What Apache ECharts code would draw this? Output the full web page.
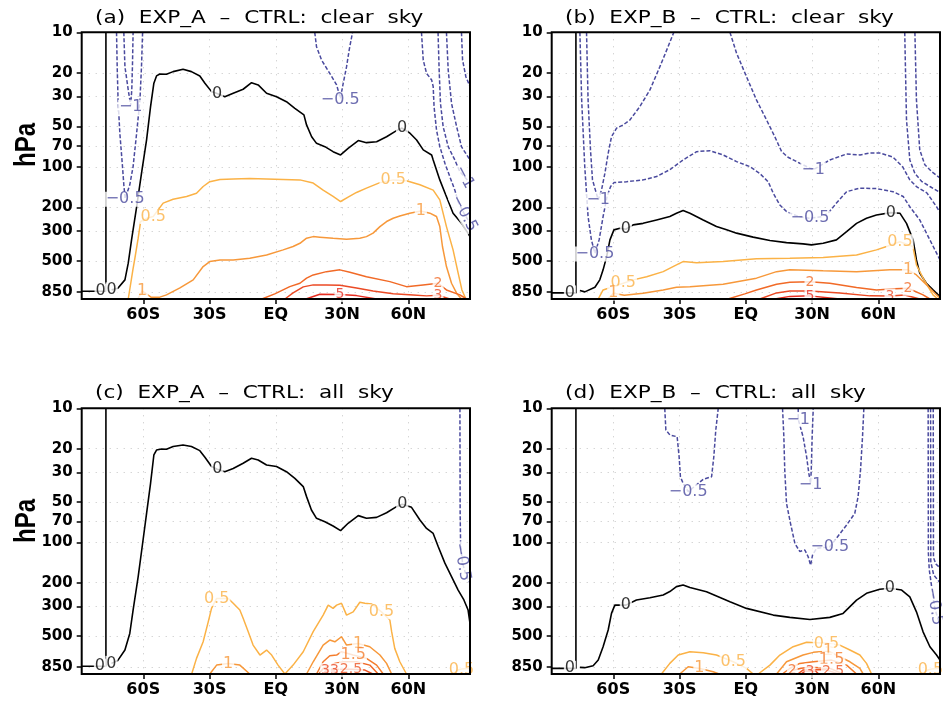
<!DOCTYPE html>
<html>
<head>
<meta charset="utf-8">
<script src="https://cdn.jsdelivr.net/npm/echarts@6/dist/echarts.min.js"></script>
<style>
html, body { margin: 0; padding: 0; background: #fff; }
#chart { width: 943px; height: 705px; }
</style>
</head>
<body>
<div id="chart"></div>
<script>
// ---- axes -------------------------------------------------------------
const latTicks = [-60, -30, 0, 30, 60];
const presTicks = [10, 20, 30, 50, 70, 100, 200, 300, 500, 850];
const latRange = [-87.86, 87.86];
const presRange = [10, 960];

const panelTitles = [
  '(a)  EXP_A  \u2013  CTRL:  clear  sky',
  '(b)  EXP_B  \u2013  CTRL:  clear  sky',
  '(c)  EXP_A  \u2013  CTRL:  all  sky',
  '(d)  EXP_B  \u2013  CTRL:  all  sky'
];

// ---- contour lines: [latitude, pressure hPa] --------------------------
// (a) EXP_A - CTRL, clear sky
const aZeroPolar = [[-87.86, 840], [-76.9, 840], [-76.9, 10]];
const aZero = [[-74.3, 821], [-71.5, 800], [-68.3, 692], [-66.8, 520], [-65.3, 349], [-63.0, 198], [-60.8, 112], [-58.5, 63], [-56.7, 35.7], [-55.2, 23.9], [-54.0, 21.1], [-52.5, 20.4], [-49.5, 20.5], [-46.5, 19.6], [-42.0, 18.8], [-38.2, 19.6], [-34.4, 21.1], [-32.1, 23.9], [-29.1, 27.6], [-26.6, 28.5], [-23.1, 30.1], [-19.3, 28.4], [-14.8, 26.5], [-11.0, 23.7], [-8.0, 24.6], [-4.2, 28.4], [0.3, 30.1], [4.8, 32.8], [8.6, 36.7], [12.7, 41.1], [13.9, 48.8], [16.2, 59.7], [18.4, 66.9], [22.2, 70.8], [25.9, 77.1], [29.3, 81.6], [32.7, 72.8], [37.3, 63.8], [41.0, 66.1], [45.6, 65.0], [50.1, 59.7], [54.6, 53.8], [57.1, 51.5], [60.6, 56], [63.7, 63.1], [66.7, 74.8], [70.5, 81.6], [71.2, 88.9], [74.2, 125], [76.9, 162], [80.2, 221], [84.0, 262], [87.0, 312], [87.86, 330]];
const aNegSH05 = [[-72.1, 10], [-71.8, 18], [-71.4, 31.8], [-70.6, 56.2], [-69.4, 99.5], [-68.8, 136], [-68.2, 172], [-66.1, 136], [-64.6, 99.5], [-63.0, 56.2], [-61.5, 31.8], [-60.8, 18], [-60.3, 10]];
const aNegSH1 = [[-68.8, 10], [-68.3, 18], [-66.8, 26.8], [-65.7, 35], [-65.2, 26.8], [-64.9, 18], [-64.6, 10]];
const aNegTrop05 = [[17.6, 10], [18.4, 12.8], [20.7, 16.1], [24.4, 20.2], [27.5, 24.6], [29.2, 31], [30.5, 23.9], [32.0, 18.0], [33.2, 13.5], [34.7, 10]];
const aNegNP05 = [[65.9, 10], [66.7, 16.1], [68.2, 20.2], [70.5, 22.6], [71.2, 25.3], [71.6, 35.7], [72.7, 53.2], [74.2, 70.8], [76.5, 94], [78.7, 118], [81.0, 149], [82.5, 182], [85.1, 221], [87.86, 262]];
const aNegNP1 = [[73.4, 10], [73.9, 19.1], [74.5, 33.7], [75.7, 50.2], [78.0, 70.8], [81.0, 88.9], [83.3, 109], [85.1, 117], [87.86, 132]];
const aNegNP15 = [[77.2, 10], [78.0, 19.1], [79.5, 33.7], [81.8, 50.2], [84.0, 70.8], [87.86, 88.9]];
const aNegNP2 = [[84.0, 10], [84.5, 16.1], [86.0, 21.4], [87.86, 25.3]];
const aPos05 = [[-66.8, 960], [-64.7, 583], [-63.8, 478], [-62.3, 339], [-61.2, 255], [-58.0, 240], [-55.5, 234], [-51.0, 186], [-46.5, 174], [-40.4, 166], [-35.9, 157], [-32.9, 140], [-29.9, 129], [-25.3, 124], [-19.3, 123], [-11.8, 122], [-4.2, 123], [3.3, 124], [10.9, 125], [16.9, 132], [21.4, 149], [25.9, 166], [29.3, 181], [32.7, 168], [36.5, 155], [41.0, 144], [47.1, 131], [53.1, 125], [59.1, 127], [65.2, 136], [71.2, 149], [74.2, 176], [77.2, 278], [80.2, 414], [82.5, 617], [84.2, 822], [86.0, 960]];
const aPos1 = [[-62.5, 960], [-60.5, 835], [-56.5, 930], [-52.5, 930], [-49.5, 895], [-43.4, 794], [-37.4, 692], [-32.9, 551], [-29.9, 506], [-25.3, 492], [-19.3, 492], [-11.8, 478], [-4.2, 452], [3.3, 414], [7.8, 391], [10.9, 370], [13.9, 339], [16.9, 330], [19.9, 333], [25.9, 339], [32.0, 345], [38.0, 339], [41.0, 330], [44.0, 311], [47.1, 278], [50.1, 255], [53.1, 241], [56.1, 232], [60.6, 221], [65.6, 213], [69.7, 221], [72.7, 234], [74.2, 278], [75.4, 391], [77.2, 551], [79.5, 733], [81.8, 869], [84.0, 960]];
const aPos2 = [[-6.3, 960], [-0.5, 879], [6.3, 777], [10.9, 733], [13.9, 672], [16.9, 636], [22.9, 601], [29.0, 583], [33.5, 607], [41.0, 655], [51.6, 713], [59.1, 777], [66.6, 754], [73.4, 733], [77.2, 822], [83.3, 895], [86.3, 960]];
const aPos3 = [[4.1, 960], [7.8, 865], [12.4, 780], [16.9, 754], [22.9, 754], [29.0, 760], [36.5, 794], [44.0, 836], [53.1, 879], [62.1, 895], [68.2, 910], [73.4, 900], [78.7, 960]];
const aPos5 = [[13.6, 960], [19.9, 885], [29.0, 888], [36.5, 906], [45.6, 960]];

// (b) EXP_B - CTRL, clear sky
const bZeroPolar = [[-87.86, 865], [-76.9, 865], [-76.9, 10]];
const bZero = [[-75.1, 831], [-72.9, 850], [-68.3, 785], [-66.1, 692], [-64.6, 583], [-63.0, 465], [-61.5, 349], [-59.7, 294], [-57.0, 286], [-54.3, 291], [-51.0, 270], [-46.5, 263], [-40.4, 248], [-34.4, 234], [-31.4, 221], [-28.4, 211], [-25.3, 221], [-19.3, 248], [-13.3, 278], [-8.7, 294], [-4.2, 311], [3.3, 333], [10.9, 353], [18.4, 366], [25.9, 374], [29.7, 380], [35.0, 370], [41.0, 349], [45.6, 303], [50.1, 263], [54.6, 241], [59.1, 228], [65.6, 219], [69.7, 221], [72.7, 263], [75.7, 349], [77.2, 492], [78.7, 617], [81.7, 733], [84.7, 822], [87.86, 921]];
const bNeg05 = [[-75.1, 10], [-74.3, 31.8], [-72.9, 99.5], [-71.4, 234], [-69.9, 349], [-68.3, 439], [-66.4, 349], [-64.6, 234], [-62.8, 166], [-61.2, 140], [-59.7, 131], [-54.0, 129], [-46.5, 125], [-40.4, 118], [-34.4, 105], [-28.4, 88.9], [-22.3, 77.1], [-16.3, 75.8], [-10.3, 81.6], [-4.2, 91.4], [1.8, 99.5], [6.3, 112], [10.1, 129], [12.4, 157], [15.4, 192], [18.4, 215], [24.0, 235], [29.0, 241], [34.0, 235], [37.2, 221], [41.0, 186], [45.6, 153], [51.6, 144], [59.1, 145], [66.6, 153], [71.2, 166], [74.2, 198], [78.7, 248], [84.8, 391], [87.86, 492]];
const bNegSH1 = [[-72.1, 10], [-71.4, 31.8], [-70.3, 74.9], [-69.4, 125], [-66.8, 176], [-65.3, 148], [-63.8, 112], [-62.3, 79.3], [-60.8, 59.7], [-58.5, 51.6], [-55.5, 48.8], [-52.5, 44.9], [-48.0, 35.7], [-43.4, 26.8], [-38.9, 18.0], [-35.2, 12.8], [-32.6, 10]];
const bNegNH1 = [[-7.2, 10], [-4.2, 14.3], [0.3, 21.4], [4.8, 31.8], [9.4, 44.9], [13.1, 59.7], [16.2, 77.1], [19.1, 84.9], [24.4, 94], [30.5, 105], [38.0, 88.9], [45.6, 80.2], [51.6, 81.6], [56.1, 78.9], [60.6, 78.9], [66.5, 84.4], [71.0, 100], [74.2, 125], [77.4, 141], [81.9, 156], [86.4, 199], [87.86, 219]];
const bNegNP15 = [[71.9, 10], [72.7, 44.8], [74.2, 88.9], [76.5, 112], [79.5, 128], [83.3, 140], [87.86, 155]];
const bNegNP2 = [[76.5, 10], [77.2, 31.8], [78.7, 74.9], [81.0, 96.5], [84.2, 109], [87.86, 121]];
const bPos05 = [[-66.8, 960], [-64.6, 822], [-55.5, 733], [-51.0, 692], [-44.9, 655], [-37.4, 601], [-31.4, 536], [-28.4, 506], [-22.3, 517], [-10.3, 506], [4.8, 483], [19.9, 478], [35.0, 472], [50.1, 452], [59.1, 414], [63.7, 391], [69.7, 360], [75.6, 391], [77.2, 536], [80.2, 672], [84.7, 895], [86.9, 960]];
const bPos1 = [[-62.4, 960], [-60.0, 869], [-55.0, 900], [-46.5, 869], [-37.4, 822], [-31.4, 785], [-25.3, 777], [-10.3, 745], [4.8, 672], [13.9, 601], [19.9, 583], [35.0, 593], [50.1, 601], [65.2, 583], [73.4, 583], [77.2, 636], [81.8, 754], [86.3, 895], [87.86, 946]];
const bPos2 = [[-8.1, 960], [-0.5, 879], [4.8, 822], [13.9, 745], [19.9, 720], [29.0, 716], [38.0, 733], [50.1, 787], [59.1, 822], [67.4, 807], [73.4, 798], [80.2, 895], [83.3, 960]];
const bPos3 = [[6.3, 960], [13.9, 865], [19.9, 836], [29.0, 836], [42.5, 865], [56.1, 910], [65.2, 912], [71.9, 895], [78.7, 960]];
const bPos5 = [[13.1, 960], [19.9, 918], [29.0, 910], [38.0, 942], [42.5, 960]];

// (c) EXP_A - CTRL, all sky
const cZeroPolar = [[-87.86, 840], [-76.9, 840], [-76.9, 10]];
const cZero = [[-74.4, 800], [-71.5, 760], [-68.3, 636], [-66.1, 478], [-64.6, 320], [-62.3, 180], [-60.3, 102], [-58.5, 60.8], [-56.7, 36.3], [-55.2, 22.3], [-54.0, 20.5], [-51.7, 20.1], [-49.5, 20.2], [-46.5, 19.3], [-42.0, 18.8], [-38.2, 19.3], [-34.4, 20.7], [-32.1, 23.2], [-29.1, 27.2], [-26.5, 28.5], [-23.1, 29.7], [-19.3, 28.1], [-14.8, 25.7], [-11.0, 23.6], [-8.0, 24.3], [-4.2, 26.5], [0.3, 27.2], [4.8, 29.7], [8.6, 33.3], [12.4, 38.4], [13.9, 45.6], [16.1, 57.4], [18.4, 66.2], [22.2, 70.2], [25.9, 75.5], [29.3, 81.8], [32.7, 72.1], [37.3, 63.2], [41.0, 66.2], [45.6, 65.1], [50.1, 60.1], [54.6, 54.2], [57.2, 52], [61.4, 54.8], [65.2, 68.1], [68.2, 78.7], [71.2, 85.8], [73.5, 108], [76.5, 143], [79.5, 180], [82.5, 227], [85.1, 269], [87.0, 320], [87.86, 402]];
const cNegNP05 = [[83.3, 10], [83.4, 60], [83.6, 102], [84.0, 120], [84.5, 143], [86.0, 175], [87.86, 202]];
const cPos05S = [[-38.1, 960], [-35.9, 734], [-32.9, 552], [-30.6, 392], [-29.1, 311], [-26.8, 262], [-21.6, 262], [-19.3, 285], [-16.3, 320], [-14.8, 369], [-12.5, 464], [-10.3, 584], [-7.2, 693], [-4.2, 636], [-1.9, 693], [1.0, 824], [4.1, 960]];
const cPos1S = [[-29.9, 960], [-26.8, 824], [-21.6, 800], [-16.3, 824], [-11.8, 960]];
const cPos05N = [[4.1, 960], [7.8, 824], [12.4, 655], [16.9, 464], [21.4, 349], [23.7, 294], [25.9, 311], [27.5, 294], [29.7, 285], [32.0, 349], [35.0, 330], [38.0, 280], [40.3, 285], [43.4, 289], [47.8, 330], [51.6, 380], [52.4, 464], [53.8, 618], [56.1, 778], [59.1, 960]];
const cPos1N = [[13.9, 960], [16.9, 778], [21.4, 584], [24.4, 536], [26.7, 552], [29.7, 506], [32.0, 584], [37.2, 568], [42.5, 601], [47.1, 693], [50.1, 800], [52.4, 960]];
const cPos15N = [[18.4, 960], [21.4, 778], [24.4, 702], [27.5, 693], [29.7, 655], [35.0, 693], [41.0, 734], [45.6, 824], [48.6, 960]];
const cPos2N = [[19.5, 960], [21.5, 870], [26.7, 800], [30.5, 778], [36.5, 778], [42.5, 824], [46.3, 960]];
const cPos25N = [[21.0, 960], [24.0, 885], [34.4, 883], [40.3, 898], [43.9, 960]];
const cPos3N = [[21.5, 960], [22.5, 910], [26.5, 910], [28.5, 960]];
const cPos05NP = [[80.5, 960], [82.0, 900], [84.0, 880], [87.86, 870]];

// (d) EXP_B - CTRL, all sky
const dZeroPolar = [[-87.86, 871], [-76.9, 871], [-76.9, 10]];
const dZero = [[-75.1, 857], [-72.9, 861], [-69.1, 832], [-66.8, 755], [-64.6, 601], [-62.3, 451], [-60.8, 339], [-59.3, 294], [-54.3, 294], [-49.5, 269], [-43.4, 259], [-37.4, 247], [-34.4, 233], [-31.4, 214], [-28.4, 208], [-25.3, 217], [-17.8, 234], [-7.2, 278], [0.3, 311], [12.4, 349], [19.9, 363], [29.0, 376], [38.0, 363], [44.0, 339], [50.1, 270], [54.6, 240], [60.6, 224], [65.2, 220], [70.5, 227], [74.2, 255], [77.2, 330], [80.2, 465], [83.3, 601], [86.3, 693], [87.86, 755]];
const dNegS05 = [[-36.7, 10], [-36.2, 14.5], [-34.4, 15.8], [-31.1, 16.3], [-30.2, 23.0], [-29.6, 32.4], [-28.4, 36.3], [-26.1, 41.9], [-19.3, 33.9], [-15.5, 32.4], [-14.5, 23.0], [-13.6, 14.5], [-12.5, 10]];
const dNegN05 = [[16.6, 10], [17.2, 16.3], [17.6, 28.8], [18.4, 51.2], [20.2, 72.1], [22.2, 102], [24.4, 117], [26.7, 114], [28.2, 128], [29.3, 148], [30.2, 124], [32.0, 111], [38.0, 108], [45.6, 74.3], [49.3, 60.8], [50.8, 45.6], [51.9, 28.8], [52.8, 16.3], [53.4, 10]];
const dNegN1 = [[23.7, 10], [23.7, 12.1], [25.9, 16.3], [27.5, 23.0], [28.5, 30.6], [29.3, 36.3], [29.6, 28.8], [30.0, 16.3], [30.5, 10]];
const dNegNP05 = [[82.5, 10], [82.6, 120], [83.0, 160], [84.5, 240], [85.5, 310], [87.86, 420]];
const dNegNP1 = [[83.6, 10], [83.7, 140], [85.0, 175], [87.86, 200]];
const dNegNP15 = [[84.8, 10], [84.9, 130], [86.0, 145], [87.86, 155]];
const dPos05S = [[-38.2, 960], [-34.4, 800], [-30.6, 693], [-25.3, 655], [-19.3, 666], [-13.3, 693], [-5.7, 778], [0.3, 872], [3.3, 960]];
const dPos1S = [[-29.9, 960], [-26.1, 847], [-20.8, 872], [-14.8, 923], [-12.1, 960]];
const dPos05N = [[5.6, 960], [10.9, 824], [15.4, 693], [21.4, 601], [27.5, 557], [36.5, 567], [42.5, 584], [47.1, 636], [51.6, 693], [54.6, 800], [56.9, 960]];
const dPos1N = [[13.9, 960], [18.4, 778], [25.9, 693], [30.5, 662], [37.2, 647], [42.5, 714], [47.1, 778], [51.6, 872], [53.1, 960]];
const dPos15N = [[16.5, 960], [20.0, 870], [24.4, 800], [30.5, 778], [38.8, 756], [45.6, 824], [50.1, 960]];
const dPos2N = [[19.5, 960], [21.0, 905], [25.0, 870], [29.0, 855], [38.0, 870], [44.0, 960]];
const dPos25N = [[23.5, 960], [26.0, 895], [36.0, 890], [42.0, 960]];
const dPos3N = [[25.0, 960], [27.0, 915], [31.5, 912], [33.0, 960]];
const dPos05NP = [[80.5, 960], [82.0, 900], [84.0, 880], [87.86, 870]];

// ---- contour labels: [latitude, pressure hPa, text, level, rotation] ---
const aLabels = [
  [-79.3, 840, '0', 0], [-74.3, 821, '0', 0], [-26.6, 28.5, '0', 0], [57.1, 51.5, '0', 0],
  [-68.2, 174, '\u22120.5', -0.5], [-65.7, 36, '\u22121', -1], [29.1, 31.5, '\u22120.5', -0.5],
  [85.2, 222, '\u22120.5', -0.5, -62], [85.3, 119, '\u22121', -1, -62],
  [-55.5, 234, '0.5', 0.5], [53.1, 125, '0.5', 0.5],
  [-60.5, 840, '1', 1], [65.6, 213, '1', 1],
  [73.4, 733, '2', 2], [73.4, 900, '3', 3], [29.0, 888, '5', 5]
];
const bLabels = [
  [-79.6, 865, '0', 0], [-54.3, 291, '0', 0], [65.6, 219, '0', 0],
  [-68.3, 445, '\u22120.5', -0.5], [29.0, 241, '\u22120.5', -0.5],
  [-66.8, 176, '\u22121', -1], [30.5, 105, '\u22121', -1],
  [-55.5, 733, '0.5', 0.5], [69.7, 360, '0.5', 0.5],
  [-60.0, 869, '1', 1], [73.4, 583, '1', 1],
  [29.0, 716, '2', 2], [73.4, 798, '2', 2],
  [65.2, 912, '3', 3], [29.0, 910, '5', 5]
];
const cLabels = [
  [-79.6, 840, '0', 0], [-74.4, 800, '0', 0], [-26.5, 28.5, '0', 0], [57.2, 52, '0', 0],
  [84.2, 140, '\u22120.5', -0.5, -80],
  [-26.8, 262, '0.5', 0.5], [47.8, 330, '0.5', 0.5], [84.0, 890, '0.5', 0.5],
  [-21.6, 800, '1', 1], [37.2, 568, '1', 1],
  [35.0, 693, '1.5', 1.5],
  [22.5, 905, '3', 3], [26.5, 905, '3', 3], [34.0, 890, '2.5', 2.5]
];
const dLabels = [
  [-79.6, 871, '0', 0], [-54.3, 294, '0', 0], [65.2, 220, '0', 0],
  [-26.1, 41.9, '\u22120.5', -0.5], [38.0, 108, '\u22120.5', -0.5], [85.3, 300, '\u22120.5', -0.5, -80],
  [23.7, 12.1, '\u22121', -1], [29.3, 37, '\u22121', -1],
  [-5.7, 778, '0.5', 0.5], [36.5, 567, '0.5', 0.5], [83.5, 895, '0.5', 0.5],
  [-21.0, 870, '1', 1], [37.2, 647, '1', 1],
  [38.8, 756, '1.5', 1.5],
  [21.0, 905, '2', 2], [29.0, 912, '3', 3], [39.5, 912, '2.5', 2.5]
];

// contour sets for each panel: [line, level]
const panelContours = [
  [[aZeroPolar, 0], [aZero, 0], [aNegSH05, -0.5], [aNegSH1, -1], [aNegTrop05, -0.5], [aNegNP05, -0.5], [aNegNP1, -1], [aNegNP15, -1.5], [aNegNP2, -2], [aPos05, 0.5], [aPos1, 1], [aPos2, 2], [aPos3, 3], [aPos5, 5]],
  [[bZeroPolar, 0], [bZero, 0], [bNeg05, -0.5], [bNegSH1, -1], [bNegNH1, -1], [bNegNP15, -1.5], [bNegNP2, -2], [bPos05, 0.5], [bPos1, 1], [bPos2, 2], [bPos3, 3], [bPos5, 5]],
  [[cZeroPolar, 0], [cZero, 0], [cNegNP05, -0.5], [cPos05S, 0.5], [cPos1S, 1], [cPos05N, 0.5], [cPos1N, 1], [cPos15N, 1.5], [cPos2N, 2], [cPos25N, 2.5], [cPos3N, 3], [cPos05NP, 0.5]],
  [[dZeroPolar, 0], [dZero, 0], [dNegS05, -0.5], [dNegN05, -0.5], [dNegN1, -1], [dNegNP05, -0.5], [dNegNP1, -1], [dNegNP15, -1.5], [dPos05S, 0.5], [dPos1S, 1], [dPos05N, 0.5], [dPos1N, 1], [dPos15N, 1.5], [dPos2N, 2], [dPos25N, 2.5], [dPos3N, 3], [dPos05NP, 0.5]]
];
const panelLabels = [aLabels, bLabels, cLabels, dLabels];

// ---- layout ------------------------------------------------------------
const boxes = [
  { left: 81.7, top: 32.3, width: 388.3, height: 266.7 },
  { left: 551.7, top: 32.3, width: 388.3, height: 266.7 },
  { left: 81.7, top: 408.3, width: 388.3, height: 265.7 },
  { left: 551.7, top: 408.3, width: 388.3, height: 265.7 }
];
const titlePos = [[95, 18], [565, 18], [95, 393], [565, 393]];

function levelColor(v) {
  if (v < 0) return '#4a4a9e';
  if (v === 0) return '#000000';
  const m = { 0.5: '#fbb246', 1: '#f7983a', 1.5: '#f47d2d', 2: '#f16a27', 2.5: '#ee5526', 3: '#eb4a25', 5: '#e52d20' };
  return m[v] || '#e52d20';
}
const lg = p => Math.log10(p);
const fmtLat = v => (v === 0 ? 'EQ' : (v < 0 ? (-v) + 'S' : v + 'N'));
const fmtPres = v => String(Math.round(Math.pow(10, v)));

const grid = [], xAxis = [], yAxis = [], series = [], graphic = [];
const dotted = { show: true, lineStyle: { color: '#c4c4c4', width: 1, type: [1, 6] } };

boxes.forEach((b, i) => {
  grid.push(Object.assign({ containLabel: false, outerBoundsMode: 'none', show: false }, b));
  xAxis.push({
    type: 'value', gridIndex: i, min: latRange[0], max: latRange[1], position: 'bottom',
    axisLine: { show: false, onZero: false },
    axisTick: { show: true, customValues: latTicks, length: 5, lineStyle: { color: '#000', width: 1.5 } },
    axisLabel: { customValues: latTicks, formatter: fmtLat, color: '#000', fontFamily: 'DejaVu Sans', fontWeight: 'bold', fontSize: 16, margin: 8 },
    splitLine: dotted
  });
  yAxis.push({
    type: 'value', gridIndex: i, inverse: true, min: lg(presRange[0]), max: lg(presRange[1]), position: 'left',
    axisLine: { show: false, onZero: false },
    axisTick: { show: true, customValues: presTicks.map(lg), length: 5, lineStyle: { color: '#000', width: 1.5 } },
    axisLabel: { customValues: presTicks.map(lg), formatter: fmtPres, color: '#000', fontFamily: 'DejaVu Sans', fontWeight: 'bold', fontSize: 15, margin: 9 },
    splitLine: dotted
  });

  panelContours[i].forEach(([pts, level]) => {
    series.push({
      type: 'line', xAxisIndex: i, yAxisIndex: i,
      data: pts.map(p => [p[0], lg(p[1])]),
      symbol: 'none', showSymbol: false, silent: true, animation: false, clip: true, z: 2,
      lineStyle: { color: levelColor(level), width: level === 0 ? 1.6 : 1.5, type: level < 0 ? [4, 2] : 'solid' }
    });
  });

  series.push({
    type: 'scatter', xAxisIndex: i, yAxisIndex: i, symbolSize: 1, silent: true, animation: false, z: 5,
    itemStyle: { color: 'transparent' },
    data: panelLabels[i].map(l => ({
      value: [l[0], lg(l[1])], name: l[2],
      label: { color: levelColor(l[3]), rotate: l[4] || 0, fontSize: l[3] >= 2 ? 14 : 16 }
    })),
    label: {
      show: true, position: 'inside', formatter: '{b}', fontFamily: 'DejaVu Sans',
      fontSize: 16, backgroundColor: '#ffffff', padding: [0, 1], lineHeight: 15
    }
  });

  // panel frame
  graphic.push({
    type: 'rect', z: 100, silent: true,
    shape: { x: b.left, y: b.top, width: b.width, height: b.height },
    style: { fill: 'none', stroke: '#000', lineWidth: 2 }
  });
  // panel title
  graphic.push({
    type: 'text', x: titlePos[i][0], y: titlePos[i][1], scaleX: 1.2, z: 100, silent: true,
    style: { text: panelTitles[i], font: '18px "DejaVu Sans"', fill: '#000',
      align: 'left', verticalAlign: 'middle', textAlign: 'left', textVerticalAlign: 'middle' }
  });
});

// vertical axis titles
[[27, 145], [27, 521]].forEach(p => {
  graphic.push({
    type: 'text', x: p[0], y: p[1], rotation: Math.PI / 2, scaleX: 0.8, z: 100, silent: true,
    style: { text: 'hPa', font: 'bold 30px "Liberation Sans"', fill: '#000',
      align: 'center', verticalAlign: 'middle', textAlign: 'center', textVerticalAlign: 'middle' }
  });
});

const chart = echarts.init(document.getElementById('chart'), null, { renderer: 'canvas' });
chart.setOption({ animation: false, backgroundColor: '#ffffff', grid, xAxis, yAxis, series, graphic });
</script>
</body>
</html>
